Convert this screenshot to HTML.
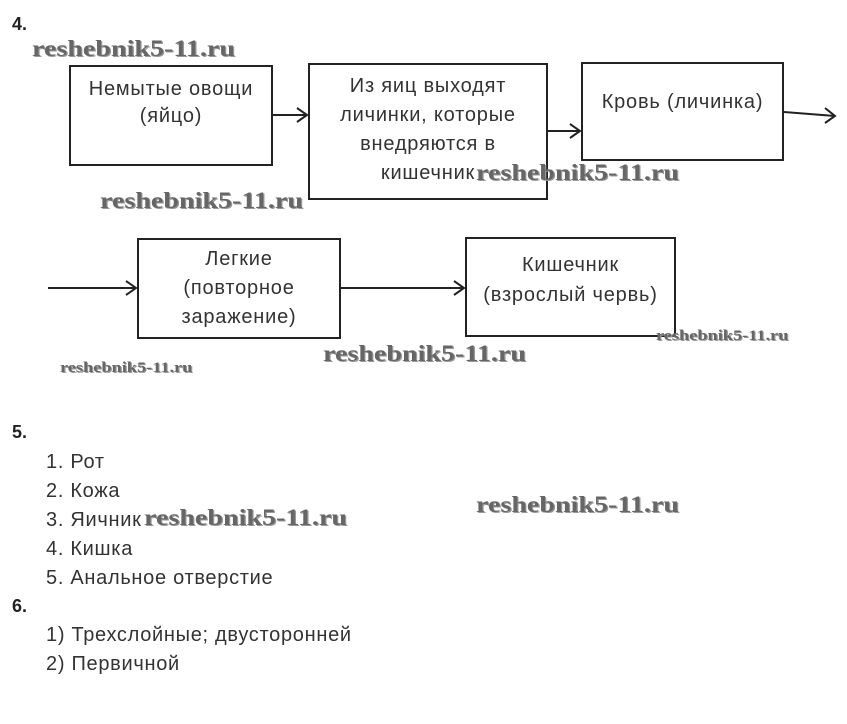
<!DOCTYPE html>
<html><head><meta charset="utf-8"><style>
body{margin:0;width:847px;height:724px;background:#fff;position:relative;overflow:hidden;font-family:"Liberation Sans",sans-serif;color:#333}
.t{position:absolute;font-size:20px;letter-spacing:0.7px;white-space:nowrap;line-height:20px}
.b{position:absolute;border:2px solid #222;box-sizing:border-box}
.bt{position:absolute;font-size:20px;letter-spacing:0.8px;text-align:center;line-height:27px;color:#333;white-space:nowrap}
.w{position:absolute;font-family:"Liberation Serif",serif;font-weight:bold;color:#666;white-space:nowrap;text-shadow:1px 1px 0 #999;transform:scaleX(1.22);transform-origin:0 0}
.h{position:absolute;font-weight:bold;font-size:18px;color:#222}
</style></head><body>
<div class="h" style="left:12px;top:14px">4.</div>
<div class="b" style="left:69px;top:65px;width:204px;height:101px"></div>
<div class="bt" style="left:69px;top:76px;width:204px">Немытые овощи<br>(яйцо)</div>
<div class="b" style="left:308px;top:63px;width:240px;height:137px"></div>
<div class="bt" style="left:308px;top:72px;width:240px;line-height:29px">Из яиц выходят<br>личинки, которые<br>внедряются в<br>кишечник</div>
<div class="b" style="left:581px;top:62px;width:203px;height:99px"></div>
<div class="bt" style="left:581px;top:89px;width:203px">Кровь (личинка)</div>
<div class="b" style="left:137px;top:238px;width:204px;height:101px"></div>
<div class="bt" style="left:137px;top:245px;width:204px;line-height:29px">Легкие<br>(повторное<br>заражение)</div>
<div class="b" style="left:465px;top:237px;width:211px;height:100px"></div>
<div class="bt" style="left:465px;top:250px;width:211px;line-height:30px">Кишечник<br>(взрослый червь)</div>
<svg style="position:absolute;left:0;top:0" width="847" height="724" fill="none" stroke="#222" stroke-width="2">
<path d="M273 115H307M297 108L307 115L297 122"/>
<path d="M548 131H580M570 124L580 131L570 138"/>
<path d="M784 112L835 116M825 108L835 116L825 123"/>
<path d="M48 288H136M126 281L136 288L126 295"/>
<path d="M341 288H464M454 281L464 288L454 295"/>
</svg>
<div class="w" style="left:32px;top:36px;font-size:23px">reshebnik5-11.ru</div>
<div class="w" style="left:100px;top:188px;font-size:23px">reshebnik5-11.ru</div>
<div class="w" style="left:476px;top:160px;font-size:23px">reshebnik5-11.ru</div>
<div class="w" style="left:323px;top:341px;font-size:23px">reshebnik5-11.ru</div>
<div class="w" style="left:656px;top:328px;font-size:15px">reshebnik5-11.ru</div>
<div class="w" style="left:60px;top:360px;font-size:15px">reshebnik5-11.ru</div>
<div class="w" style="left:476px;top:492px;font-size:23px">reshebnik5-11.ru</div>
<div class="h" style="left:12px;top:422px">5.</div>
<div class="t" style="left:46px;top:452px">1. Рот</div>
<div class="t" style="left:46px;top:481px">2. Кожа</div>
<div class="t" style="left:46px;top:510px">3. Яичник</div>
<div class="w" style="left:144px;top:505px;font-size:23px">reshebnik5-11.ru</div>
<div class="t" style="left:46px;top:539px">4. Кишка</div>
<div class="t" style="left:46px;top:568px">5. Анальное отверстие</div>
<div class="h" style="left:12px;top:596px">6.</div>
<div class="t" style="left:46px;top:625px">1) Трехслойные; двусторонней</div>
<div class="t" style="left:46px;top:654px">2) Первичной</div>
</body></html>
